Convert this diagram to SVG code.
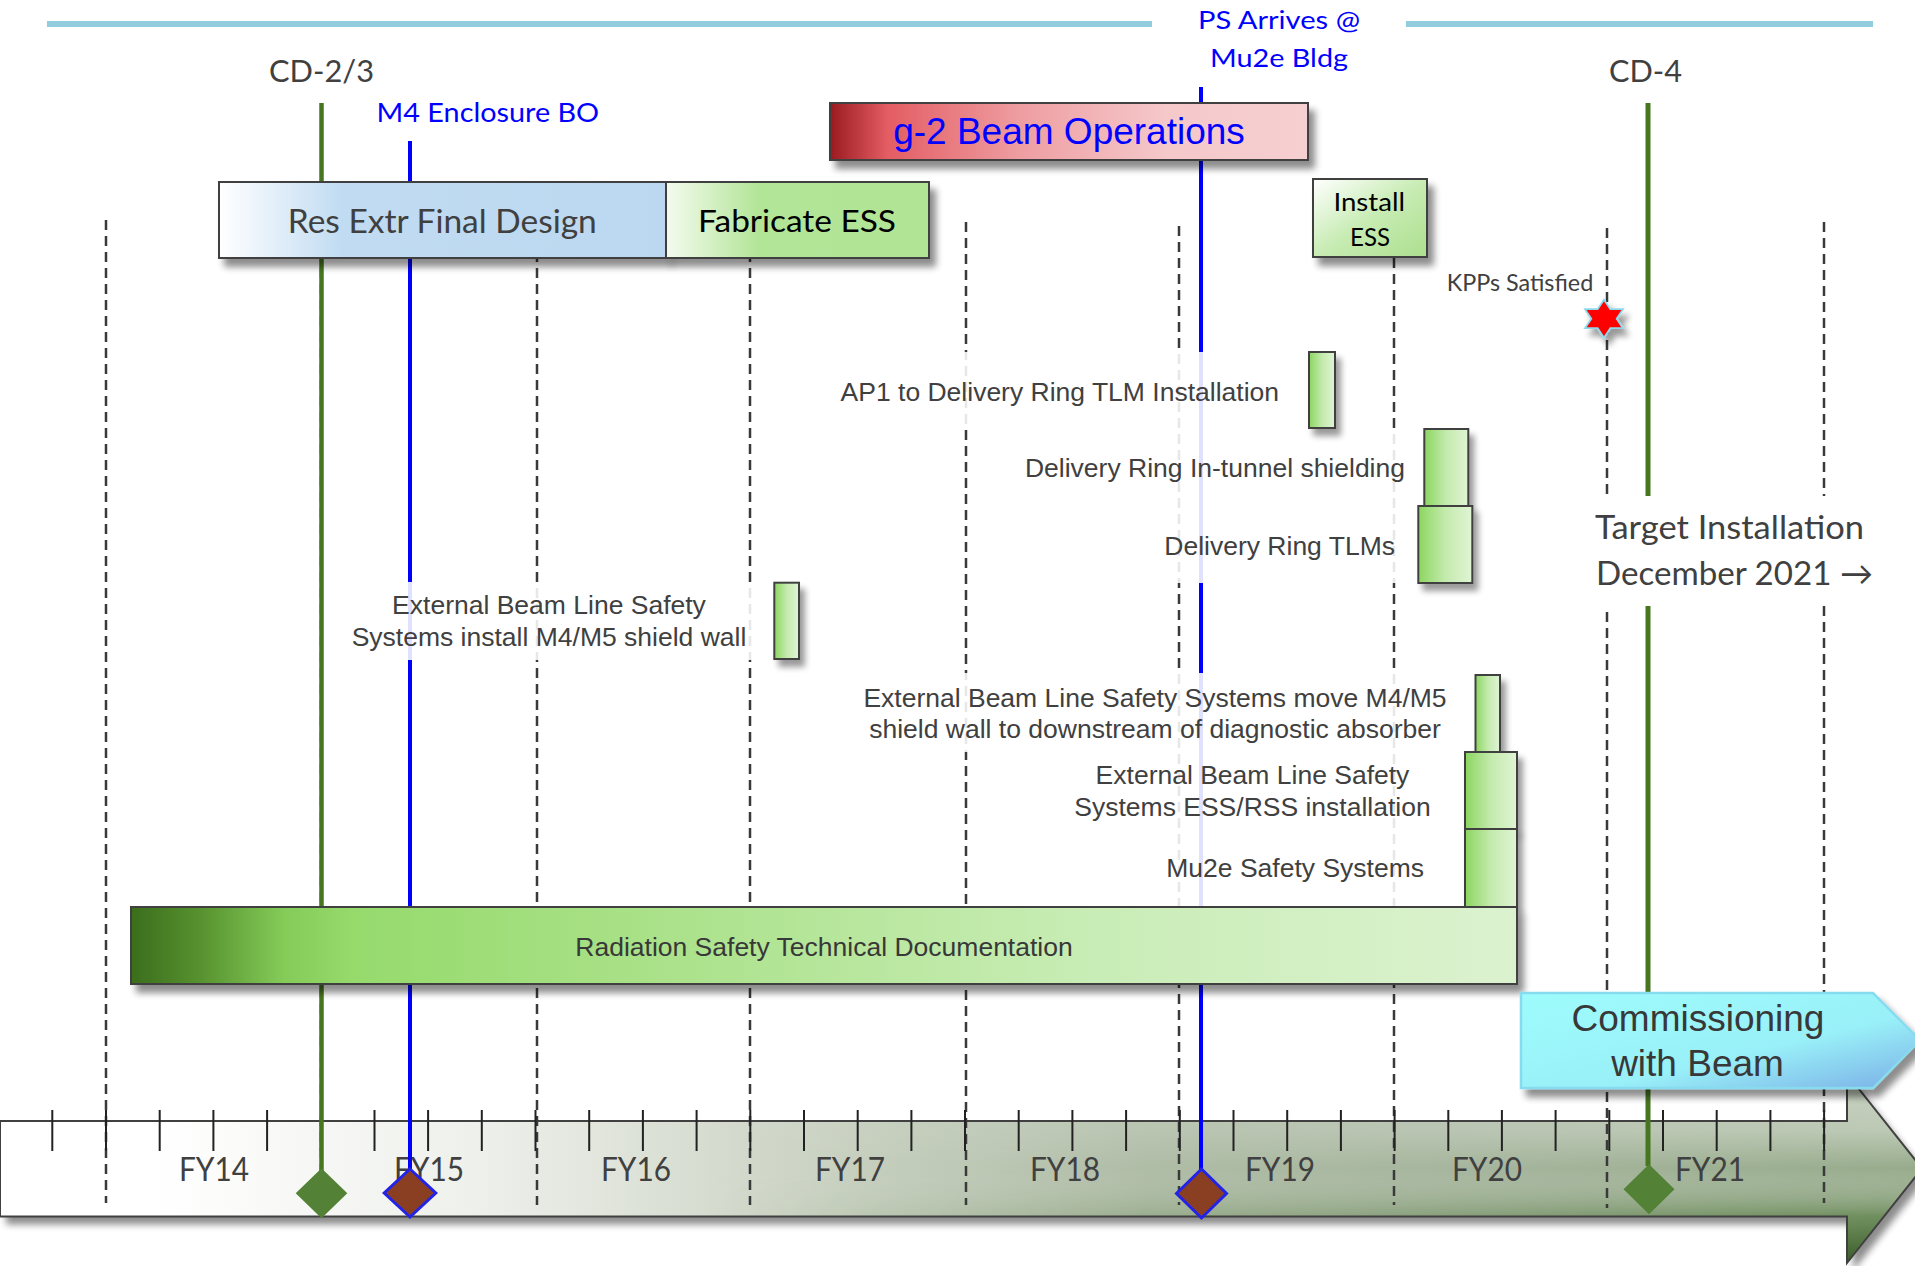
<svg xmlns="http://www.w3.org/2000/svg" width="1915" height="1266" viewBox="0 0 1915 1266">
<style>
.cal{font-family:Lato,"Open Sans","Liberation Sans",sans-serif}
.ari{font-family:"Liberation Sans",Arial,sans-serif}
.gray{fill:#404040}
.blue{fill:#0000FF}
.lbl{font-size:26.5px;fill:#404040}
.dash{stroke:#3a3a3a;stroke-width:2.5;stroke-dasharray:10 6;fill:none}
.box{stroke:#404040;stroke-width:2}
.wb{fill:#ffffff;fill-opacity:0.88}
.bar{fill:url(#gBar);stroke:#404040;stroke-width:2}
</style>
<defs>
<filter id="sh" x="-10%" y="-20%" width="125%" height="170%"><feGaussianBlur in="SourceAlpha" stdDeviation="3.5"/><feOffset dx="6" dy="8"/><feComponentTransfer><feFuncA type="linear" slope="0.45"/></feComponentTransfer><feMerge><feMergeNode/><feMergeNode in="SourceGraphic"/></feMerge></filter>
<filter id="shb" x="-100%" y="-30%" width="300%" height="170%"><feGaussianBlur in="SourceAlpha" stdDeviation="3"/><feOffset dx="5" dy="7"/><feComponentTransfer><feFuncA type="linear" slope="0.4"/></feComponentTransfer><feMerge><feMergeNode/><feMergeNode in="SourceGraphic"/></feMerge></filter>
<linearGradient id="gRes" x1="0" y1="0" x2="1" y2="0"><stop offset="0" stop-color="#ffffff"/><stop offset="0.28" stop-color="#c0dbf2"/><stop offset="1" stop-color="#bcd8f0"/></linearGradient>
<linearGradient id="gFab" x1="0" y1="0" x2="1" y2="0"><stop offset="0" stop-color="#f4fbef"/><stop offset="0.35" stop-color="#b3e598"/><stop offset="1" stop-color="#b1e495"/></linearGradient>
<linearGradient id="gIns" x1="0" y1="0" x2="1" y2="1"><stop offset="0" stop-color="#ffffff"/><stop offset="0.5" stop-color="#c8ecb4"/><stop offset="1" stop-color="#acdf8e"/></linearGradient>
<linearGradient id="gG2" x1="0" y1="0" x2="1" y2="0"><stop offset="0" stop-color="#9a1a20"/><stop offset="0.12" stop-color="#e35d63"/><stop offset="0.4" stop-color="#ee9ea2"/><stop offset="0.7" stop-color="#f5c8ca"/><stop offset="1" stop-color="#f6cfd0"/></linearGradient>
<linearGradient id="gBar" x1="0" y1="0" x2="1" y2="0"><stop offset="0" stop-color="#8bd65e"/><stop offset="0.5" stop-color="#c4eaad"/><stop offset="1" stop-color="#e0f4d5"/></linearGradient>
<linearGradient id="gRad" x1="0" y1="0" x2="1" y2="0"><stop offset="0" stop-color="#3b6d1d"/><stop offset="0.05" stop-color="#57922f"/><stop offset="0.11" stop-color="#84cb58"/><stop offset="0.16" stop-color="#96da6c"/><stop offset="0.4" stop-color="#ace28c"/><stop offset="0.7" stop-color="#c9edb7"/><stop offset="1" stop-color="#dcf2cf"/></linearGradient>
<linearGradient id="gCom" x1="0" y1="0" x2="1" y2="1"><stop offset="0" stop-color="#9efcfc"/><stop offset="0.6" stop-color="#99f0f8"/><stop offset="1" stop-color="#7aaee6"/></linearGradient>
<linearGradient id="tlH" x1="0" y1="0" x2="1915" y2="0" gradientUnits="userSpaceOnUse"><stop offset="0" stop-color="#ffffff"/><stop offset="0.08" stop-color="#ffffff"/><stop offset="0.25" stop-color="#eef0eb"/><stop offset="0.45" stop-color="#c6cfbe"/><stop offset="0.6" stop-color="#afbca6"/><stop offset="0.8" stop-color="#a4b49b"/><stop offset="1" stop-color="#98ac8c"/></linearGradient>
<linearGradient id="tlV" x1="0" y1="1074" x2="0" y2="1263" gradientUnits="userSpaceOnUse"><stop offset="0" stop-color="#ffffff" stop-opacity="0.5"/><stop offset="0.3" stop-color="#ffffff" stop-opacity="0.35"/><stop offset="0.5" stop-color="#ffffff" stop-opacity="0"/><stop offset="0.75" stop-color="#3d6a26" stop-opacity="0.45"/><stop offset="1" stop-color="#284d16" stop-opacity="0.9"/></linearGradient>
<linearGradient id="tlM" x1="700" y1="0" x2="1900" y2="0" gradientUnits="userSpaceOnUse"><stop offset="0" stop-color="#000"/><stop offset="1" stop-color="#fff"/></linearGradient>
<mask id="mk"><rect x="0" y="1000" width="1915" height="266" fill="url(#tlM)"/></mask>
</defs>

<rect width="1915" height="1266" fill="#ffffff"/>

<!-- top line -->
<g id="topline" stroke="#92cddd" stroke-width="6">
<line x1="47" y1="24" x2="1152" y2="24"/>
<line x1="1406" y1="24" x2="1873" y2="24"/>
</g>

<!-- timeline arrow -->
<g id="timeline">
<path d="M0,1121 H1847 V1074 L1922,1168.5 L1847,1263 V1216.5 H0 Z" fill="url(#tlH)" filter="url(#sh)"/>
<path d="M0,1121 H1847 V1074 L1922,1168.5 L1847,1263 V1216.5 H0 Z" fill="url(#tlV)" mask="url(#mk)"/>
<path d="M0,1121 H1847 V1074 L1922,1168.5 L1847,1263 V1216.5 H0 Z" fill="none" stroke="#404040" stroke-width="2"/>
</g>

<!-- year dividers -->
<g id="dividers" class="dash">
<line x1="106" y1="220" x2="106" y2="1203"/>
<line x1="321" y1="220" x2="321" y2="1203"/>
<line x1="537" y1="220" x2="537" y2="1205"/>
<line x1="750" y1="220" x2="750" y2="1205"/>
<line x1="966" y1="222" x2="966" y2="1205"/>
<line x1="1179" y1="226" x2="1179" y2="1205"/>
<line x1="1394" y1="226" x2="1394" y2="1205"/>
<line x1="1607" y1="228" x2="1607" y2="1208"/>
<line x1="1824" y1="222" x2="1824" y2="1203"/>
</g>

<!-- ticks -->
<path id="ticks" stroke="#222" stroke-width="2" fill="none" d="M52.3,1110V1151M106,1110V1151M159.7,1110V1151M213.4,1110V1151M267.1,1110V1151M320.8,1110V1151M374.5,1110V1151M428.1,1110V1151M481.8,1110V1151M535.5,1110V1151M589.2,1110V1151M642.9,1110V1151M696.6,1110V1151M750.3,1110V1151M804,1110V1151M857.7,1110V1151M911.4,1110V1151M965,1110V1151M1018.7,1110V1151M1072.4,1110V1151M1126.1,1110V1151M1179.8,1110V1151M1233.5,1110V1151M1287.2,1110V1151M1340.9,1110V1151M1394.6,1110V1151M1448.3,1110V1151M1501.9,1110V1151M1555.6,1110V1151M1609.3,1110V1151M1663,1110V1151M1716.7,1110V1151M1770.4,1110V1151M1824.1,1110V1151"/>

<!-- FY labels -->
<g id="fy" class="cal gray" font-size="32.5" text-anchor="middle">
<text x="214" y="1181" textLength="70" lengthAdjust="spacingAndGlyphs">FY14</text>
<text x="429" y="1181" textLength="70" lengthAdjust="spacingAndGlyphs">FY15</text>
<text x="636" y="1181" textLength="70" lengthAdjust="spacingAndGlyphs">FY16</text>
<text x="850" y="1181" textLength="70" lengthAdjust="spacingAndGlyphs">FY17</text>
<text x="1065" y="1181" textLength="70" lengthAdjust="spacingAndGlyphs">FY18</text>
<text x="1280" y="1181" textLength="70" lengthAdjust="spacingAndGlyphs">FY19</text>
<text x="1487" y="1181" textLength="70" lengthAdjust="spacingAndGlyphs">FY20</text>
<text x="1710" y="1181" textLength="70" lengthAdjust="spacingAndGlyphs">FY21</text>
</g>

<!-- milestone lines -->
<g id="connectors">
<line x1="321.5" y1="103" x2="321.5" y2="1172" stroke="#46761f" stroke-width="4.5"/>
<line x1="410" y1="141" x2="410" y2="1193" stroke="#0000ff" stroke-width="4"/>
<line x1="1201" y1="87" x2="1201" y2="1193" stroke="#0000ff" stroke-width="4"/>
<line x1="1648" y1="103" x2="1648" y2="1166" stroke="#46761f" stroke-width="5"/>
</g>

<!-- milestone labels -->
<g id="m-cd23"><text class="cal gray" x="269" y="82" font-size="31" textLength="105" lengthAdjust="spacingAndGlyphs">CD-2/3</text></g>
<g id="m-m4"><text class="cal blue" x="376.6" y="122" font-size="27.5" textLength="222.5" lengthAdjust="spacingAndGlyphs">M4 Enclosure BO</text></g>
<g id="m-ps" class="cal blue" font-size="25.5" text-anchor="middle">
<text x="1279" y="28.5" textLength="162" lengthAdjust="spacingAndGlyphs">PS Arrives @</text>
<text x="1279" y="66.7" textLength="138" lengthAdjust="spacingAndGlyphs">Mu2e Bldg</text>
</g>
<g id="m-cd4"><text class="cal gray" x="1609" y="82" font-size="30" textLength="73" lengthAdjust="spacingAndGlyphs">CD-4</text></g>

<!-- translucent label backgrounds and labels -->
<g id="t-ap1"><rect class="wb" x="832" y="352" width="470" height="76"/><text class="ari lbl" x="1279" y="401" text-anchor="end">AP1 to Delivery Ring TLM Installation</text></g>
<g id="t-shield"><rect class="wb" x="1018" y="428" width="400" height="78"/><text class="ari lbl" x="1405" y="476.7" text-anchor="end">Delivery Ring In-tunnel shielding</text></g>
<g id="t-tlms"><rect class="wb" x="1155" y="506" width="260" height="77"/><text class="ari lbl" x="1395" y="555" text-anchor="end">Delivery Ring TLMs</text></g>
<g id="t-install" class="ari lbl" text-anchor="middle"><rect class="wb" x="324" y="582" width="446" height="78"/><text x="549" y="614.3">External Beam Line Safety</text><text x="549" y="646">Systems install M4/M5 shield wall</text></g>
<g id="t-move" class="ari lbl" text-anchor="middle"><rect class="wb" x="856" y="673" width="615" height="79"/><text x="1155" y="706.7">External Beam Line Safety Systems move M4/M5</text><text x="1155" y="738.3">shield wall to downstream of diagnostic absorber</text></g>
<g id="t-essrss" class="ari lbl" text-anchor="middle"><rect class="wb" x="1066" y="752" width="397" height="77"/><text x="1252.5" y="784.3">External Beam Line Safety</text><text x="1252.5" y="816">Systems ESS/RSS installation</text></g>
<g id="t-mu2e"><rect class="wb" x="1150" y="829" width="313" height="78"/><text class="ari lbl" x="1424" y="876.7" text-anchor="end">Mu2e Safety Systems</text></g>

<!-- task boxes -->
<g id="n-res"><rect class="box" x="219" y="182" width="447" height="76" fill="url(#gRes)" filter="url(#sh)"/><text class="cal gray" x="287.8" y="233.3" font-size="33.5" textLength="309" lengthAdjust="spacingAndGlyphs">Res Extr Final Design</text></g>
<g id="n-fab"><rect class="box" x="666" y="182" width="263" height="76" fill="url(#gFab)" filter="url(#sh)"/><text class="cal" fill="#000" x="698" y="232.3" font-size="31" textLength="198" lengthAdjust="spacingAndGlyphs">Fabricate ESS</text></g>
<g id="n-g2"><rect class="box" x="830" y="103" width="478" height="57" fill="url(#gG2)" filter="url(#sh)"/><text class="ari blue" x="1069" y="144" font-size="37" text-anchor="middle">g-2 Beam Operations</text></g>
<g id="n-install"><rect class="box" x="1313" y="179" width="114" height="78" fill="url(#gIns)" filter="url(#sh)"/><text class="cal" fill="#000" font-size="25" x="1333.4" y="211" textLength="71.6" lengthAdjust="spacingAndGlyphs">Install</text><text class="cal" fill="#000" font-size="25" x="1350" y="246" textLength="40" lengthAdjust="spacingAndGlyphs">ESS</text></g>

<g id="n-bars">
<rect class="bar" x="1309" y="352" width="26" height="76" filter="url(#shb)"/>
<rect class="bar" x="1424.3" y="429" width="44" height="77" filter="url(#shb)"/>
<rect class="bar" x="1418.3" y="506" width="54" height="77" filter="url(#shb)"/>
<rect class="bar" x="774.3" y="582.7" width="24.7" height="76.3" filter="url(#shb)"/>
<rect class="bar" x="1475.5" y="675" width="24.5" height="77" filter="url(#shb)"/>
<rect class="bar" x="1465" y="752" width="52" height="77" filter="url(#shb)"/>
<rect class="bar" x="1465" y="829" width="52" height="78" filter="url(#shb)"/>
</g>

<g id="n-rad"><rect class="box" x="131" y="907" width="1386" height="77" fill="url(#gRad)" filter="url(#sh)"/><text class="ari" fill="#383838" font-size="26.5" x="824" y="955.6" text-anchor="middle">Radiation Safety Technical Documentation</text></g>

<!-- KPPs -->
<g id="n-kpp"><text class="cal gray" x="1446.7" y="291" font-size="24" textLength="146.6" lengthAdjust="spacingAndGlyphs">KPPs Satisfied</text>
<polygon transform="translate(1604,318.7)" points="0,-19 6.33,-9.5 19,-9.5 12.67,0 19,9.5 6.33,9.5 0,19 -6.33,9.5 -19,9.5 -12.67,0 -19,-9.5 -6.33,-9.5" fill="#ff0000" stroke="#8ed8ec" stroke-width="1.8" filter="url(#shb)"/></g>

<!-- target label -->
<g id="n-target"><rect x="1588" y="496" width="292" height="110" fill="#ffffff"/>
<text class="cal gray" x="1595" y="539.3" font-size="32.5" textLength="269" lengthAdjust="spacingAndGlyphs">Target Installation</text>
<text class="cal gray" x="1596" y="585" font-size="32.5" textLength="277" lengthAdjust="spacingAndGlyphs">December 2021 →</text></g>

<!-- commissioning -->
<g id="n-comm"><path d="M1521,993 H1873 L1920,1040 L1873,1088 H1521 Z" fill="url(#gCom)" stroke="#86dcee" stroke-width="2.5" filter="url(#sh)"/>
<text class="ari" fill="#383838" font-size="37" x="1698" y="1031" text-anchor="middle">Commissioning</text>
<text class="ari" fill="#383838" font-size="37" x="1697.5" y="1075.7" text-anchor="middle">with Beam</text></g>

<!-- diamonds -->
<g id="d-cd23"><polygon points="321.5,1168.3 347.3,1193.3 321.5,1218.3 295.7,1193.3" fill="#538135"/></g>
<g id="d-m4"><polygon points="410,1169 435.8,1193 410,1217 384.2,1193" fill="#8b3f22" stroke="#2323e8" stroke-width="3"/></g>
<g id="d-ps"><polygon points="1201.5,1169 1226.5,1193.5 1201.5,1218 1176.5,1193.5" fill="#8b3f22" stroke="#2323e8" stroke-width="3"/></g>
<g id="d-cd4"><polygon points="1649,1164.3 1674.5,1189.3 1649,1214.3 1623.5,1189.3" fill="#538135"/></g>
</svg>
